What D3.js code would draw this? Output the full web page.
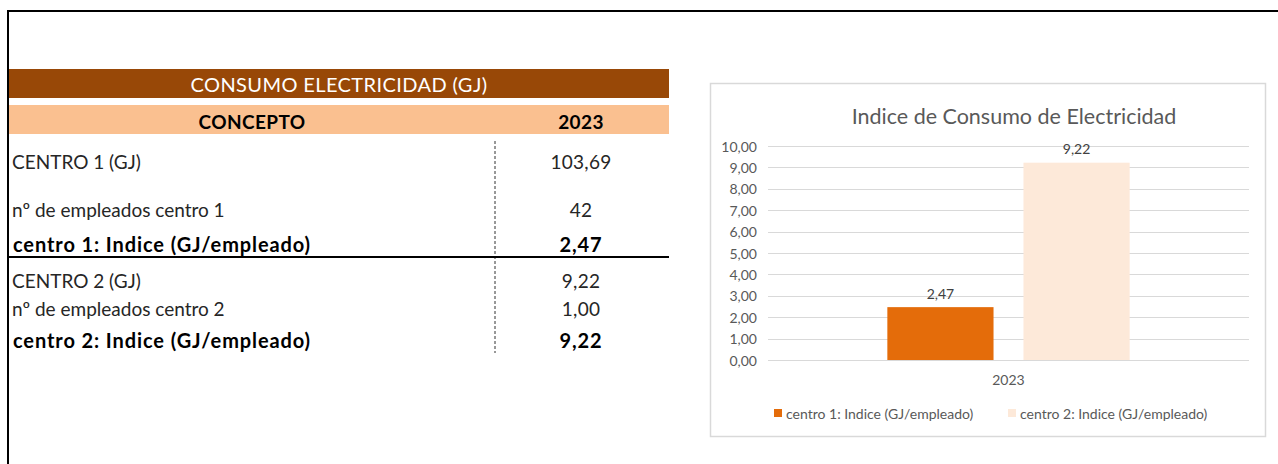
<html>
  <head>
    <script src="https://d3js.org/d3.v7.min.js"></script>
    <style>
      body {
        margin: 0;
        background: #fff;
      }
      svg text {
        font-family: Lato, "Open Sans", sans-serif;
      }
      .grid line {
        stroke: #d9d9d9;
        stroke-width: 1;
      }
      .axis text {
        fill: #595959;
        font-size: 14px;
      }
    </style>
  </head>
  <body>
    <svg id="sheet" width="1278" height="464"></svg>

    <script>
      // Table contents
      const tableTitle = "CONSUMO ELECTRICIDAD (GJ)";
      const columnHeads = ["CONCEPTO", "2023"];
      const rowLabels = [
        "CENTRO 1 (GJ)",
        "nº de empleados centro 1",
        "centro 1: Indice (GJ/empleado)",
        "CENTRO 2 (GJ)",
        "nº de empleados centro 2",
        "centro 2: Indice (GJ/empleado)",
      ];
      const rowValues = ["103,69", "42", "2,47", "9,22", "1,00", "9,22"];

      // Chart contents
      const chartTitle = "Indice de Consumo de Electricidad";
      const years = ["2023"];
      const series = [
        "centro 1: Indice (GJ/empleado)",
        "centro 2: Indice (GJ/empleado)",
      ];
      const indexValues = [2.47, 9.22];
      const yTickValues = [0, 1, 2, 3, 4, 5, 6, 7, 8, 9, 10];

      const colors = ["#e46c0a", "#fde9d9"];

      const svg = d3.select("#sheet");
      const esFormat = d3.formatLocale({ decimal: ",", thousands: "." }).format(",.2f");

      // Sheet border (top and left)
      svg.append("line").attr("x1", 7).attr("x2", 1278).attr("y1", 11).attr("y2", 11)
        .attr("stroke", "#000").attr("stroke-width", 2);
      svg.append("line").attr("x1", 8).attr("x2", 8).attr("y1", 10).attr("y2", 464)
        .attr("stroke", "#000").attr("stroke-width", 2);

      // ---- Table ----
      const table = svg.append("g");
      const tLeft = 9, tRight = 669, colX = 581, divX = 495;

      table.append("rect").attr("x", tLeft).attr("y", 69).attr("width", tRight - tLeft)
        .attr("height", 29).attr("fill", "#984807");
      table.append("text").attr("x", 339).attr("y", 84).attr("text-anchor", "middle")
        .attr("dominant-baseline", "central").attr("fill", "#fff")
        .style("font-size", "20px").style("letter-spacing", "0.4px").text(tableTitle);

      table.append("rect").attr("x", tLeft).attr("y", 105).attr("width", tRight - tLeft)
        .attr("height", 29).attr("fill", "#fac090");
      table.selectAll("text.head")
        .data(columnHeads)
        .join("text")
        .attr("class", "head")
        .attr("x", (d, i) => (i === 0 ? 252 : colX))
        .attr("y", 121)
        .attr("text-anchor", "middle")
        .attr("dominant-baseline", "central")
        .style("font-size", "19px")
        .style("font-weight", 700)
        .style("letter-spacing", "0.4px")
        .attr("fill", "#000")
        .text((d) => d);

      const rowY = [161, 209, 244, 280, 308, 340];
      const isBold = (d) => d.indexOf("Indice") >= 0;

      table.selectAll("text.label")
        .data(rowLabels)
        .join("text")
        .attr("class", "label")
        .attr("x", (d) => (isBold(d) ? 13 : 12))
        .attr("y", (d, i) => rowY[i])
        .attr("dominant-baseline", "central")
        .style("font-size", (d) => (isBold(d) ? "20px" : "19px"))
        .style("font-weight", (d) => (isBold(d) ? 700 : 400))
        .style("letter-spacing", (d) => (isBold(d) ? "0.9px" : "0px"))
        .attr("fill", (d) => (isBold(d) ? "#000" : "#262626"))
        .text((d) => d);

      table.selectAll("text.value")
        .data(rowValues)
        .join("text")
        .attr("class", "value")
        .attr("x", colX)
        .attr("y", (d, i) => rowY[i])
        .attr("text-anchor", "middle")
        .attr("dominant-baseline", "central")
        .style("font-size", (d, i) => (isBold(rowLabels[i]) ? "20px" : "19px"))
        .style("font-weight", (d, i) => (isBold(rowLabels[i]) ? 700 : 400))
        .style("letter-spacing", (d, i) => (isBold(rowLabels[i]) ? "0.9px" : "0.3px"))
        .attr("fill", (d, i) => (isBold(rowLabels[i]) ? "#000" : "#262626"))
        .text((d) => d);

      table.append("line").attr("x1", divX).attr("x2", divX).attr("y1", 141).attr("y2", 353)
        .attr("stroke", "#333").attr("stroke-width", 1).attr("stroke-dasharray", "3,2");
      table.append("line").attr("x1", 7).attr("x2", tRight).attr("y1", 257).attr("y2", 257)
        .attr("stroke", "#000").attr("stroke-width", 2);

      // ---- Chart ----
      const chart = svg.append("g");
      chart.append("rect").attr("x", 710.5).attr("y", 83.5).attr("width", 555).attr("height", 353)
        .attr("fill", "#fff").attr("stroke", "#d9d9d9").attr("stroke-width", 1.5);

      chart.append("text").attr("x", 1014).attr("y", 116).attr("text-anchor", "middle")
        .attr("dominant-baseline", "central").attr("fill", "#595959")
        .style("font-size", "21.5px").text(chartTitle);

      const plotLeft = 768, plotRight = 1249;
      const y = d3.scaleLinear().domain([0, 10]).range([360, 146]);
      const x0 = d3.scaleBand().domain(years).range([plotLeft, plotRight]).padding(0.33);
      const x1 = d3.scaleBand().domain(series).range([0, x0.bandwidth()]).paddingInner(0.22);

      chart.append("g")
        .attr("class", "grid")
        .selectAll("line")
        .data(yTickValues)
        .join("line")
        .attr("x1", plotLeft)
        .attr("x2", plotRight)
        .attr("y1", (d) => Math.round(y(d)) + 0.5)
        .attr("y2", (d) => Math.round(y(d)) + 0.5);

      chart.append("g")
        .attr("class", "axis")
        .selectAll("text")
        .data(yTickValues)
        .join("text")
        .attr("x", 757)
        .attr("y", (d) => y(d))
        .attr("text-anchor", "end")
        .attr("dominant-baseline", "central")
        .text((d) => esFormat(d));

      chart.append("g")
        .attr("class", "axis")
        .selectAll("text")
        .data(years)
        .join("text")
        .attr("x", (d) => x0(d) + x0.bandwidth() / 2)
        .attr("y", 379)
        .attr("text-anchor", "middle")
        .attr("dominant-baseline", "central")
        .text((d) => d);

      const groups = chart.selectAll("g.year")
        .data(years)
        .join("g")
        .attr("class", "year")
        .attr("transform", (d) => `translate(${x0(d)},0)`);

      groups.selectAll("rect")
        .data(series.map((s, i) => ({ s, v: indexValues[i], i })))
        .join("rect")
        .attr("x", (d) => x1(d.s))
        .attr("y", (d) => y(d.v))
        .attr("width", x1.bandwidth())
        .attr("height", (d) => y(0) - y(d.v))
        .attr("fill", (d) => colors[d.i]);

      groups.selectAll("text.lbl")
        .data(series.map((s, i) => ({ s, v: indexValues[i] })))
        .join("text")
        .attr("class", "lbl")
        .attr("x", (d) => x1(d.s) + x1.bandwidth() / 2)
        .attr("y", (d) => y(d.v) - 14)
        .attr("text-anchor", "middle")
        .attr("dominant-baseline", "central")
        .attr("fill", "#404040")
        .style("font-size", "14px")
        .text((d) => esFormat(d.v));

      // Legend
      const legendX = [774, 1008];
      const legend = chart.selectAll("g.legend")
        .data(series)
        .join("g")
        .attr("class", "legend")
        .attr("transform", (d, i) => `translate(${legendX[i]},413)`);
      legend.append("rect").attr("x", 0).attr("y", -4).attr("width", 8).attr("height", 8)
        .attr("fill", (d, i) => colors[i]);
      legend.append("text").attr("x", 12).attr("y", 0).attr("dominant-baseline", "central")
        .attr("fill", "#595959").style("font-size", "14px").text((d) => d);
    </script>
  </body>
</html>
